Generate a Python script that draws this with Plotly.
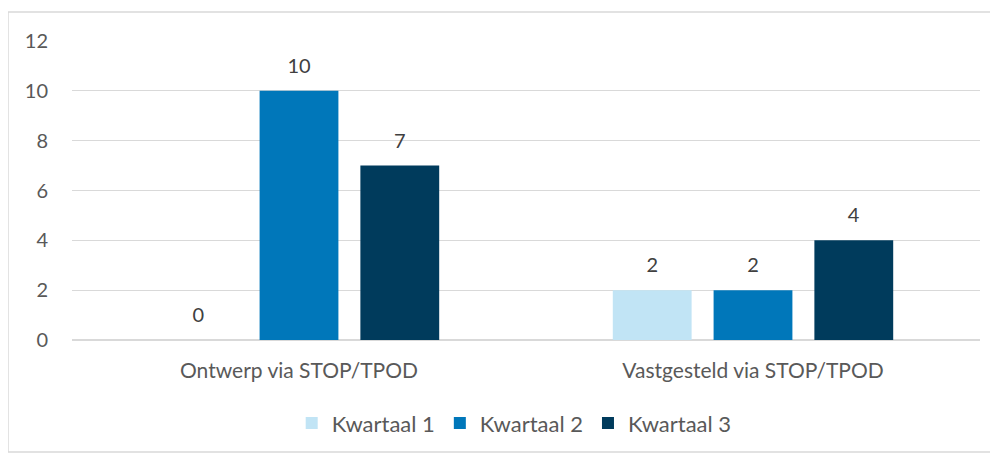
import plotly.graph_objects as go

categories = ["Ontwerp via STOP/TPOD", "Vastgesteld via STOP/TPOD"]
series_names = ["Kwartaal 1", "Kwartaal 2", "Kwartaal 3"]
kwartaal_1 = [0, 2]
kwartaal_2 = [10, 2]
kwartaal_3 = [7, 4]
y_ticks = [0, 2, 4, 6, 8, 10, 12]

colors = ["#C1E4F5", "#0077BA", "#003B5C"]
font_family = "Lato, 'Open Sans', sans-serif"

fig = go.Figure()
for name, vals, col in zip(series_names, [kwartaal_1, kwartaal_2, kwartaal_3], colors):
    fig.add_trace(go.Bar(
        x=categories,
        y=vals,
        name=name,
        marker=dict(color=col, line=dict(width=0)),
        text=vals,
        # small trailing line lifts the label a little above the bar
        texttemplate="<span style='font-size:20px'>%{y}</span><br> ",
        textposition="outside",
        textfont=dict(size=10, color="#404040", family=font_family),
        constraintext="none",
        cliponaxis=False,
    ))

# page body has an 8px margin, so the figure is a bit smaller than the window
fig.update_layout(
    barmode="group",
    bargap=0.334,
    bargroupgap=0.218,
    width=990,
    height=448,
    margin=dict(l=64, r=18, t=33, b=116),
    plot_bgcolor="white",
    paper_bgcolor="white",
    font=dict(family=font_family, size=20, color="#595959"),
    showlegend=True,
    legend=dict(
        orientation="h",
        x=0.487,
        xanchor="center",
        y=-0.278,
        yanchor="middle",
        font=dict(size=22, color="#595959"),
        traceorder="normal",
    ),
    xaxis=dict(
        showgrid=False,
        showline=True,
        linecolor="#D9D9D9",
        linewidth=1,
        ticks="",
        ticklabelstandoff=12,
        tickfont=dict(size=21, color="#595959"),
    ),
    yaxis=dict(
        range=[0, 12],
        tickvals=y_ticks,
        showgrid=True,
        gridcolor="#D9D9D9",
        gridwidth=1,
        zeroline=True,
        zerolinecolor="#D9D9D9",
        showline=False,
        ticks="",
        ticklabelstandoff=23,
        tickfont=dict(size=20, color="#595959"),
    ),
    shapes=[dict(
        type="rect",
        xref="paper",
        yref="paper",
        x0=-0.0705,
        x1=1.0165,
        y0=-0.3746,
        y1=1.097,
        line=dict(color="#D9D9D9", width=1.5),
        fillcolor="rgba(0,0,0,0)",
        layer="below",
    )],
)

fig.write_html("out.html")
